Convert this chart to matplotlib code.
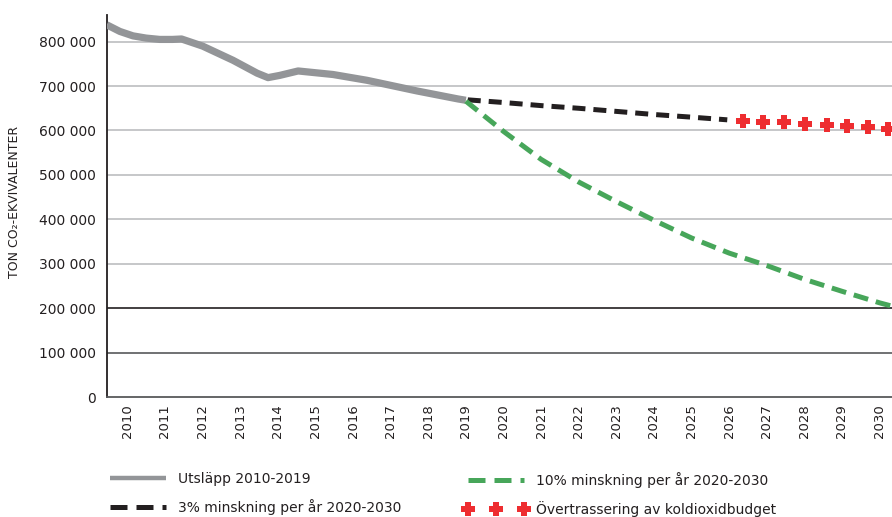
import matplotlib
matplotlib.use("Agg")
from matplotlib import pyplot as plt
from matplotlib.lines import Line2D
from matplotlib.path import Path
from matplotlib.ticker import FuncFormatter

# utsläpp 2010-2019 (tonnes)
hist_years = [2009.45, 2009.8, 2010.15, 2010.5, 2010.86, 2011.2, 2011.44, 2012.0,
              2012.81, 2013.45, 2013.74, 2014.05, 2014.54, 2015.47, 2016.37,
              2017.70, 2018.79, 2019.0]
hist_vals = [838000, 823000, 813000, 808000, 805000, 805000, 806000, 790000,
             758000, 729000, 719000, 724000, 734000, 726000, 713000,
             689000, 671000, 668000]

# 3% minskning
y3_years = [2019.05, 2020, 2021, 2022, 2023, 2024, 2025, 2025.95]
y3_vals = [669000, 663000, 656000, 650000, 643000, 636000, 630000, 624000]

# övertrassering (röda kryss)
red_years = [2026.37, 2026.90, 2027.46, 2028.02, 2028.60, 2029.13, 2029.69, 2030.23]
red_vals = [622000, 620000, 618000, 615000, 613000, 610000, 607000, 603000]

# 10% minskning
y10_years = [2019.0, 2020, 2021, 2022, 2023, 2024, 2025, 2026, 2027, 2028, 2029, 2030, 2030.4]
y10_vals = [666000, 598000, 535000, 484000, 440000, 398000, 358000, 324000,
            296000, 265000, 238000, 212000, 203000]

years = list(range(2010, 2031))
yticks = [0, 100000, 200000, 300000, 400000, 500000, 600000, 700000, 800000]

GRAY = "#939598"
BLACK = "#231f20"
GREEN = "#47a65a"
RED = "#ee2d30"

# chunky plus marker
a, b = 0.21, 0.5
plus = Path([(-a, b), (a, b), (a, a), (b, a), (b, -a), (a, -a), (a, -b), (-a, -b),
             (-a, -a), (-b, -a), (-b, a), (-a, a), (-a, b)], closed=True)

plt.rcParams['font.family'] = ['DejaVu Sans']

fig = plt.figure(figsize=(8.92, 5.17), dpi=100)
ax = fig.add_axes([0.1196, 0.2321, 0.8804, 0.971 - 0.2321])

for v in yticks[1:]:
    if v == 200000:
        c = BLACK
    elif v == 100000:
        c = "#58595b"
    else:
        c = "#bcbec0"
    ax.axhline(v, color=c, lw=1.2, zorder=1)

ax.plot(hist_years, hist_vals, color=GRAY, lw=5.2, solid_capstyle='butt',
        solid_joinstyle='round', zorder=3)
ax.plot(y3_years, y3_vals, color=BLACK, lw=3.6, dashes=(2.6, 1.6),
        dash_capstyle='butt', zorder=3)
ax.plot(y10_years, y10_vals, color=GREEN, lw=3.6, dashes=(3.0, 1.6),
        dash_capstyle='butt', zorder=3)
ax.plot(red_years, red_vals, ls='none', marker=plus, ms=10, color=RED,
        markeredgewidth=0, zorder=4)

ax.set_xlim(2009.45, 2030.33)
ax.set_ylim(0, 860000)
ax.set_xticks(years)
ax.set_xticklabels([str(y) for y in years], rotation=90, fontsize=9.5, color=BLACK)
ax.set_yticks(yticks)
ax.yaxis.set_major_formatter(FuncFormatter(lambda v, p: f"{v:,.0f}".replace(",", " ")))
ax.tick_params(axis='y', length=0, pad=8, labelsize=10, labelcolor=BLACK)
ax.tick_params(axis='x', length=0, pad=5)
for s in ['top', 'right']:
    ax.spines[s].set_visible(False)
ax.spines['left'].set_color(BLACK)
ax.spines['left'].set_linewidth(1.3)
ax.spines['bottom'].set_color("#58595b")
ax.spines['bottom'].set_linewidth(1.3)

fig.text(0.016, 0.61, "TON CO\u2082-EKVIVALENTER", rotation=90, fontsize=9,
         color=BLACK, ha='center', va='center')

h_gray = Line2D([], [], color=GRAY, lw=3.2, solid_capstyle='butt')
h_black = Line2D([], [], color=BLACK, lw=3.6, dashes=(3.4, 1.8), dash_capstyle='butt')
h_green = Line2D([], [], color=GREEN, lw=3.6, dashes=(3.4, 1.8), dash_capstyle='butt')
h_red = Line2D([], [], ls='none', marker=plus, ms=10, color=RED, markeredgewidth=0)

leg_kw = dict(frameon=False, fontsize=10, handlelength=4.6, handletextpad=0.55,
              labelspacing=0.95, borderpad=0, borderaxespad=0, numpoints=3,
              labelcolor=BLACK, loc='upper left')
fig.legend([h_gray, h_black], ["Utsläpp 2010-2019", "3% minskning per år 2020-2030"],
           bbox_to_anchor=(106 / 892, 1 - 472 / 517), **leg_kw)
fig.legend([h_green, h_red], ["10% minskning per år 2020-2030",
                              "Övertrassering av koldioxidbudget"],
           bbox_to_anchor=(464 / 892, 1 - 472 / 517), **leg_kw)

fig.savefig("out.png", dpi=100)
